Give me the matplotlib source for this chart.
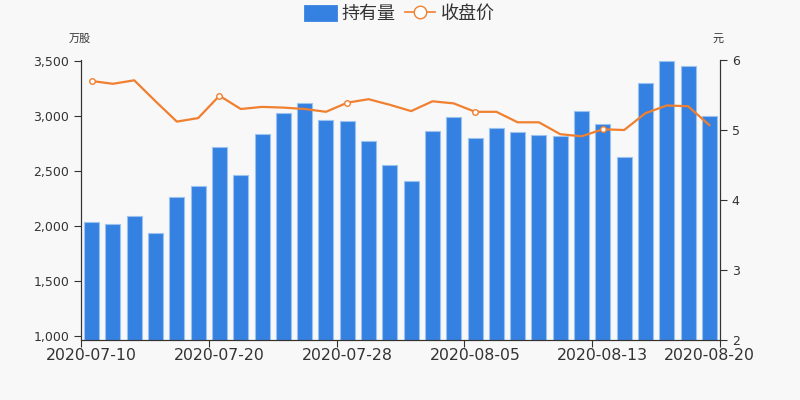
import matplotlib.pyplot as plt
from matplotlib.ticker import FuncFormatter
from matplotlib.patches import Patch
from matplotlib.lines import Line2D

plt.rcParams['font.family'] = ['DejaVu Sans', 'Noto Sans CJK SC']

dates = ["2020-07-10", "2020-07-13", "2020-07-14", "2020-07-15", "2020-07-16",
         "2020-07-17", "2020-07-20", "2020-07-21", "2020-07-22", "2020-07-23",
         "2020-07-24", "2020-07-27", "2020-07-28", "2020-07-29", "2020-07-30",
         "2020-07-31", "2020-08-03", "2020-08-04", "2020-08-05", "2020-08-06",
         "2020-08-07", "2020-08-10", "2020-08-11", "2020-08-12", "2020-08-13",
         "2020-08-14", "2020-08-17", "2020-08-18", "2020-08-19", "2020-08-20"]
holdings = [2030, 2012, 2087, 1933, 2257, 2357, 2717, 2460, 2829, 3023,
            3114, 2959, 2953, 2768, 2548, 2405, 2859, 2984, 2799, 2884,
            2847, 2823, 2817, 3041, 2923, 2623, 3292, 3495, 3450, 2995]
close = [5.70, 5.66, 5.71, 5.41, 5.12, 5.17, 5.49, 5.30, 5.33, 5.32,
         5.30, 5.26, 5.39, 5.44, 5.36, 5.27, 5.41, 5.38, 5.26, 5.26,
         5.11, 5.11, 4.94, 4.91, 5.01, 5.00, 5.24, 5.35, 5.34, 5.07]
label_idx = [0, 6, 12, 18, 24, 29]

bar_color = "#3581e1"
line_color = "#f08030"
bg = "#f8f8f8"
cjk = ["Noto Sans CJK SC", "DejaVu Sans"]

fig = plt.figure(figsize=(8, 4), dpi=100, facecolor=bg)
ax = fig.add_axes([0.10125, 0.15, 0.79875, 0.70])
ax.set_facecolor(bg)

ymin, ymax = 961, 3505
x = list(range(len(dates)))
ax.bar(x, [h - ymin for h in holdings], bottom=ymin, width=0.7,
       color=bar_color, edgecolor="#9cc2f0", linewidth=0.8)
ax.set_ylim(ymin, ymax)
ax.set_xlim(-0.5, len(dates) - 0.5)
ax.set_yticks([1000, 1500, 2000, 2500, 3000, 3500])
ax.yaxis.set_major_formatter(FuncFormatter(lambda v, p: f"{int(v):,}"))

# ticks at band edges, labels at band centres
ax.set_xticks([i - 0.5 for i in [0, 6, 12, 18, 24, 30]])
ax.set_xticklabels([])
ax.set_xticks(label_idx, minor=True)
ax.set_xticklabels([dates[i] for i in label_idx], minor=True, fontsize=11.3, color="#333333")
ax.tick_params(axis="x", which="minor", length=0, pad=6)
ax.tick_params(axis="x", which="major", length=5, color="#333333")
ax.tick_params(axis="y", labelsize=9, colors="#333333", length=5)

ax2 = ax.twinx()
ax2.plot(x, close, color=line_color, linewidth=1.6, marker="o", markersize=4,
         markerfacecolor="white", markeredgecolor=line_color,
         markevery=[0, 6, 12, 18, 24])
ax2.set_ylim(2, 6)
ax2.set_yticks([2, 3, 4, 5, 6])
ax2.tick_params(axis="y", labelsize=9, colors="#333333", length=5)

for a in (ax, ax2):
    a.spines["top"].set_visible(False)
    for s in ("left", "right", "bottom"):
        a.spines[s].set_color("#333333")

fig.text(0.10, 0.902, "万股", fontsize=8, ha="center", va="center",
         color="#333333", family=cjk)
fig.text(0.898, 0.902, "元", fontsize=8, ha="center", va="center",
         color="#333333", family=cjk)

handles = [Patch(facecolor=bar_color, edgecolor=bar_color, linewidth=2, joinstyle="round"),
           Line2D([], [], color=line_color, linewidth=1.2, marker="o", markersize=9,
                  markerfacecolor="white", markeredgecolor=line_color)]
fig.legend(handles, ["持有量", "收盘价"], loc="center", bbox_to_anchor=(0.5, 0.965),
           ncol=2, frameon=False, handlelength=1.7, handleheight=0.8,
           columnspacing=0.5, handletextpad=0.3, labelcolor="#333333",
           prop={"family": cjk, "size": 13})

fig.savefig("out.png", dpi=100, facecolor=bg)
